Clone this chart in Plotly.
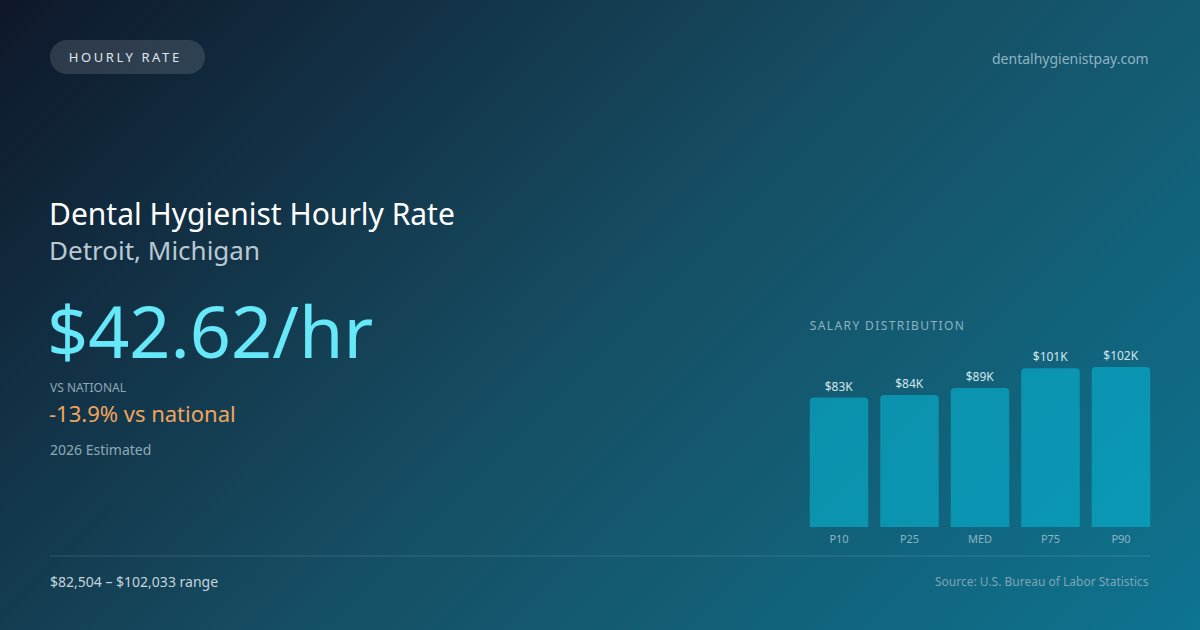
import base64
import plotly.graph_objects as go

# salary distribution (annual, USD)
percentiles = ["P10", "P25", "MED", "P75", "P90"]
salaries = [82504, 84200, 88650, 101200, 102033]

hourly_rate = 42.62
vs_national = -13.9
range_low = 82504
range_high = 102033

W, H = 1200, 630
FONT = "Noto Sans"


def px_x(x):
    return x / W


def px_y(y):
    return 1 - y / H


def bg_image():
    svg = (
        '<svg xmlns="http://www.w3.org/2000/svg" width="1200" height="630" '
        'viewBox="0 0 1200 630" preserveAspectRatio="none">'
        '<defs><linearGradient id="g" gradientUnits="userSpaceOnUse" '
        'x1="142.5" y1="-142.5" x2="1057.5" y2="772.5">'
        '<stop offset="0" stop-color="#0f172a"/>'
        '<stop offset="0.5" stop-color="#164e63"/>'
        '<stop offset="1" stop-color="#0e7490"/>'
        '</linearGradient></defs>'
        '<rect width="1200" height="630" fill="url(#g)"/></svg>'
    )
    return "data:image/svg+xml;base64," + base64.b64encode(svg.encode()).decode()


def pill_path(x0, y0, x1, y1):
    r = (y1 - y0) / 2
    k = 0.5523 * r
    pts = [
        ("M", [(x0 + r, y0)]),
        ("L", [(x1 - r, y0)]),
        ("C", [(x1 - r + k, y0), (x1, y0 + r - k), (x1, y0 + r)]),
        ("C", [(x1, y0 + r + k), (x1 - r + k, y1), (x1 - r, y1)]),
        ("L", [(x0 + r, y1)]),
        ("C", [(x0 + r - k, y1), (x0, y0 + r + k), (x0, y0 + r)]),
        ("C", [(x0, y0 + r - k), (x0 + r - k, y0), (x0 + r, y0)]),
    ]
    s = ""
    for cmd, ps in pts:
        s += cmd + " ".join(f"{px_x(a):.5f},{px_y(b):.5f}" for a, b in ps) + " "
    return s + "Z"


bar_labels = [f"${int(v / 1000 + 0.5)}K" for v in salaries]

fig = go.Figure()
fig.add_trace(go.Bar(
    x=percentiles, y=salaries,
    text=bar_labels, textposition="outside",
    textfont=dict(family=FONT, size=12, color="#d3e5ec"),
    marker=dict(color="rgba(6,182,212,0.6)", line=dict(width=0), cornerradius=4),
    cliponaxis=False, hoverinfo="skip", showlegend=False,
))

# px per dollar from reference: bar of 102033 is 160px tall, baseline at y=527
ymax = (527 - 340) / (160 / 102033)

fig.update_layout(
    width=W, height=H,
    margin=dict(l=0, r=0, t=0, b=0),
    paper_bgcolor="#0f172a", plot_bgcolor="rgba(0,0,0,0)",
    bargap=0.17,
    font=dict(family=FONT),
    xaxis=dict(domain=[px_x(803.75), px_x(1156.25)], showgrid=False, zeroline=False,
               showline=False, ticks="", ticklabelstandoff=4,
               tickfont=dict(family=FONT, size=11, color="#8db5c4"),
               fixedrange=True),
    yaxis=dict(domain=[px_y(527), px_y(340)], range=[0, ymax], visible=False,
               fixedrange=True),
    images=[dict(source=bg_image(), xref="paper", yref="paper", x=0, y=1,
                 sizex=1, sizey=1, sizing="stretch", layer="below")],
)

shapes = [
    dict(type="path", path=pill_path(50, 40, 205, 74), xref="paper", yref="paper",
         fillcolor="rgba(255,255,255,0.13)", line=dict(width=0), layer="below"),
    dict(type="line", xref="paper", yref="paper", x0=px_x(50), x1=px_x(1150),
         y0=px_y(556), y1=px_y(556), line=dict(color="rgba(255,255,255,0.14)", width=1)),
]
fig.update_layout(shapes=shapes)


def label(text, x, y, size, color, anchor="left"):
    fig.add_annotation(text=text, x=px_x(x), y=px_y(y), xref="paper", yref="paper",
                       xanchor=anchor, yanchor="middle", showarrow=False,
                       font=dict(family=FONT, size=size, color=color))


label("HOURLY RATE", 125, 57, 13, "#dde7ed", "center")
label("dentalhygienistpay.com", 1151, 58, 14, "#8fb4c3", "right")
label("Dental Hygienist Hourly Rate", 47, 213, 30, "#ffffff")
label("Detroit, Michigan", 47, 250, 26, "#b9c9d2")
label(f"${hourly_rate:.2f}/hr", 45, 330, 72, "#67e8f9")
label("VS NATIONAL", 48, 387, 12, "#8ea8b6")
label(f"{vs_national:.1f}% vs national", 47, 413, 22, "#f0a55e")
label("2026 Estimated", 48, 449, 14, "#8fa9b6")
label("SALARY DISTRIBUTION", 887, 325, 12, "#8fb2c0", "center")
label(f"${range_low:,} – ${range_high:,} range", 48, 581, 14, "#c6d4dc")
label("Source: U.S. Bureau of Labor Statistics", 1151, 581, 12, "#7ea6b6", "right")

# page margin off, and the letter spacing used on the two caps labels
post = """
document.body.style.margin = '0';
document.querySelectorAll('.annotation-text').forEach(function (t) {
  if (t.textContent === 'HOURLY RATE') t.style.letterSpacing = '2.6px';
  if (t.textContent === 'SALARY DISTRIBUTION') t.style.letterSpacing = '1.4px';
});
"""
fig.write_html("out.html", post_script=post, config={"displayModeBar": False})
